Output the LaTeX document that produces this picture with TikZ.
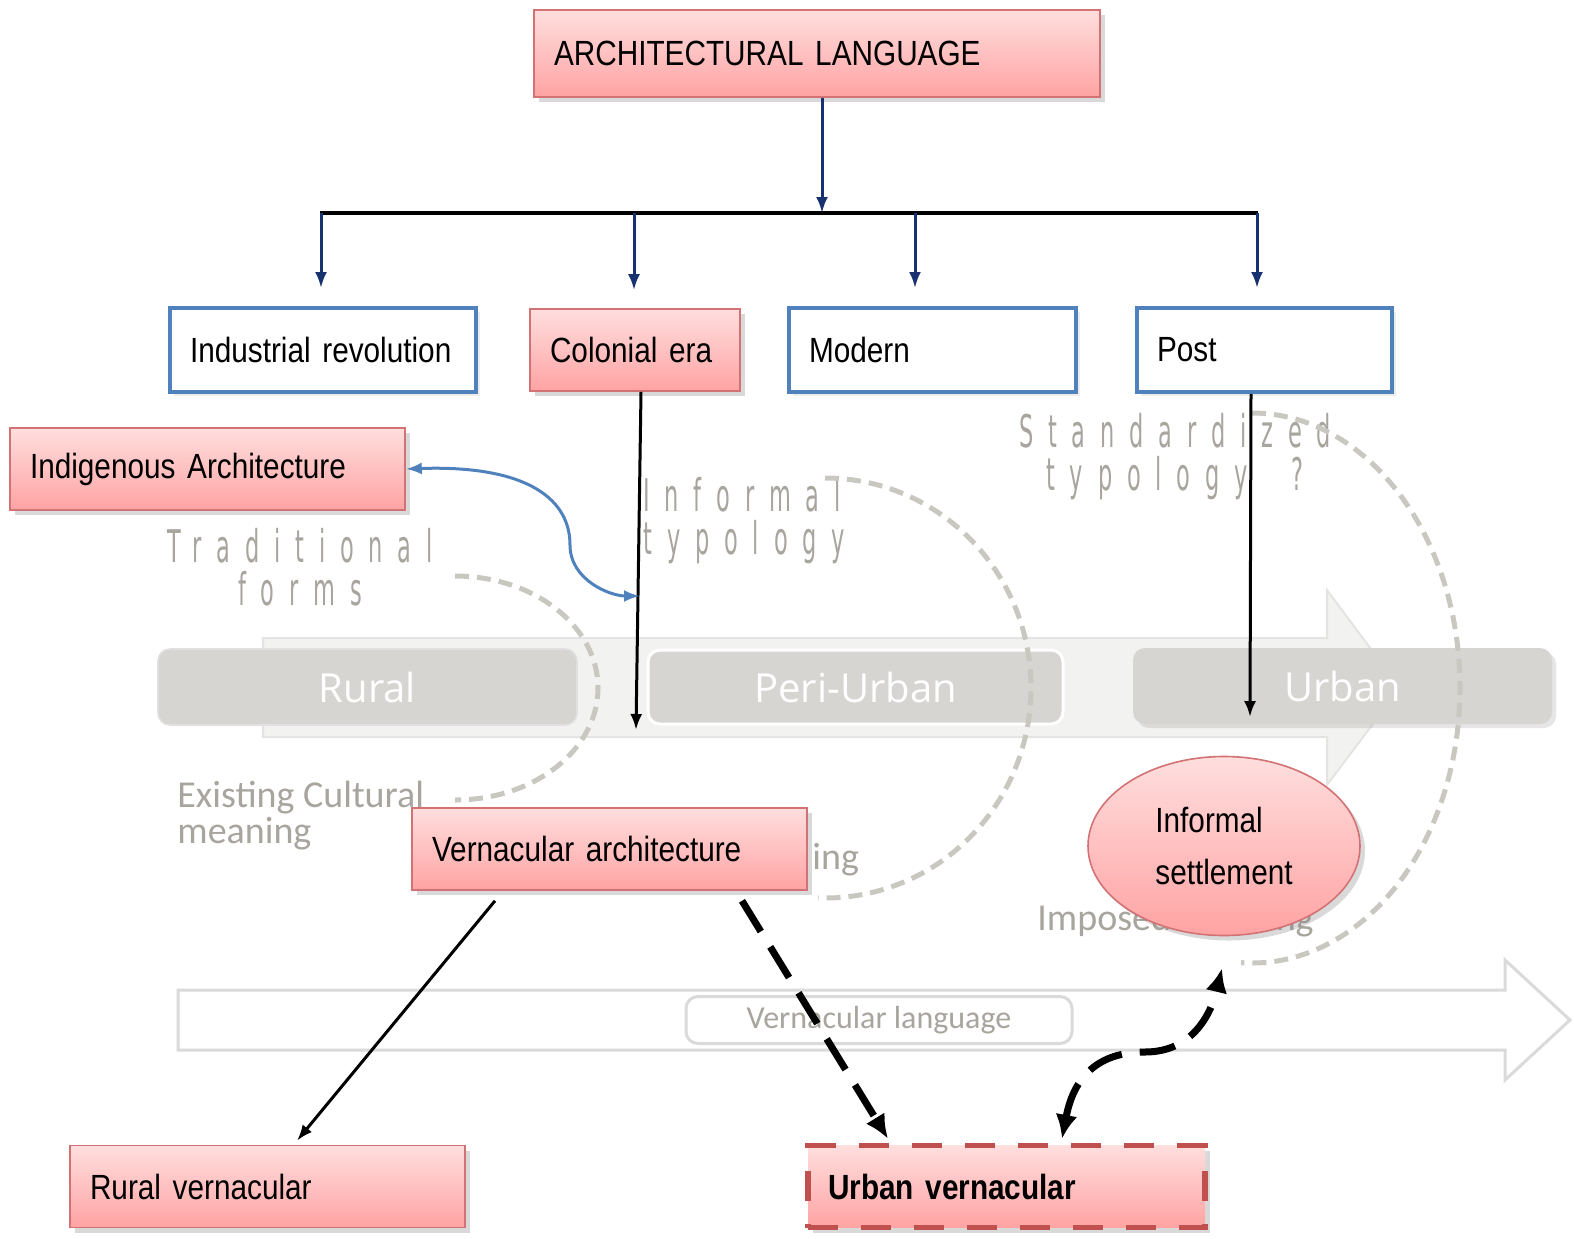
\documentclass[tikz,border=0pt]{standalone}
\usepackage{fontspec}
\setmainfont{Liberation Sans}[FakeStretch=0.85]
\newfontfamily\thinfont{DejaVu Sans}[FakeStretch=0.5,LetterSpace=33]
\newfontfamily\calfont{Carlito}
\newfontfamily\zonefont{Open Sans}
\usepackage{tikz}
\usetikzlibrary{positioning,arrows.meta,shapes.geometric,shadows}

\definecolor{pinktop}{HTML}{FFDEDE}
\definecolor{pinkbot}{HTML}{FFA3A3}
\definecolor{pinkline}{HTML}{D27274}
\definecolor{tierblue}{HTML}{4F81BD}
\definecolor{navy}{HTML}{17326E}
\definecolor{zonegray}{HTML}{D6D5D1}
\definecolor{bandgray}{HTML}{F2F2F1}
\definecolor{bandline}{HTML}{E4E4E2}
\definecolor{arcgray}{HTML}{C9C8C0}
\definecolor{greytext}{HTML}{A8A59E}
\definecolor{outlinegray}{HTML}{DADADA}
\definecolor{redline}{HTML}{C0504D}

\tikzset{
  pinkbox/.style={draw=pinkline, line width=0.8pt, top color=pinktop, bottom color=pinkbot,
    drop shadow={shadow xshift=2.5pt, shadow yshift=-2.5pt, opacity=0.3},
    font=\fontsize{17.5}{21}\selectfont, align=left, inner xsep=10pt, minimum height=41pt},
  tierbox/.style={draw=tierblue, line width=2pt, fill=white,
    drop shadow={shadow xshift=2pt, shadow yshift=-2pt, opacity=0.15},
    font=\fontsize{17.5}{21}\selectfont, align=left, inner xsep=10pt, minimum height=42pt},
  zone/.style={fill=zonegray, rounded corners=6pt, text=white,
    font=\zonefont\fontsize{20}{24}\selectfont, minimum height=38pt},
  greylabel/.style={text=greytext, inner sep=0pt, font=\thinfont\fontsize{22.5}{21.5}\selectfont},
  callabel/.style={text=greytext, inner sep=0pt, align=left, font=\calfont\fontsize{19}{18}\selectfont},
  arcline/.style={draw=arcgray, line width=2.5pt, dash pattern=on 7pt off 4pt},
  navyarrow/.style={draw=navy, line width=1.5pt, -{Latex[length=8pt,width=6pt]}},
  blkarrow/.style={draw=black, line width=1.5pt, -{Latex[length=8pt,width=6pt]}},
  bluearrow/.style={draw=tierblue, line width=1.5pt, {Latex[length=8pt,width=6pt]}-{Latex[length=8pt,width=6pt]}},
  thickdash/.style={draw=black, line width=3.5pt, dash pattern=on 18pt off 9pt}
}

\begin{document}
\begin{tikzpicture}[x=0.5pt, y=0.5pt]
\useasboundingbox (0,0) rectangle (1574,-1238);

% background band and zones
\draw[fill=bandgray, draw=bandline, line width=1pt] (263,-638) -- (1327,-638) -- (1327,-590) -- (1400,-688)
  -- (1327,-785) -- (1327,-737) -- (263,-737) -- cycle;
\node[zone, minimum width=209.5pt, draw=black!12, line width=0.8pt] (Rural) at (367.5,-687) {Rural};
\node[zone, minimum width=207.5pt, minimum height=37pt, draw=white, line width=1.5pt] (Peri) at (855.5,-687) {Peri-Urban};
\node[zone, minimum width=209.5pt, drop shadow={shadow xshift=2pt, shadow yshift=-2pt, opacity=0.2}] (Urban) at (1342.5,-686) {Urban};

% bottom arrow
\draw[draw=outlinegray, line width=1.5pt, fill=white] (178,-990) -- (1505,-990) -- (1505,-960) -- (1570,-1020)
  -- (1505,-1080) -- (1505,-1050) -- (178,-1050) -- cycle;
\node[draw=outlinegray, line width=1.5pt, rounded corners=6pt, minimum width=193pt, minimum height=23.5pt,
  text=greytext, font=\calfont\fontsize{16}{18}\selectfont] (VLang) at (879,-1020) {Vernacular language};

% grey labels
\node[greylabel, align=center] (Trad) at (300,-567) {Traditional\\forms};
\node[greylabel, align=left, anchor=west] (InfTyp) at (643,-521) {Informal\\typology};
\node[greylabel, align=center] (StdTyp) at (1175,-457) {Standardized\\typology\ \ ?};
\node[callabel, anchor=west] (Exist) at (177,-816) {Existing Cultural\\meaning};
\node[callabel, anchor=west] (Ing) at (812,-860) {ing};
\node[callabel, anchor=west] (Impose) at (1037,-921) {Imposed meaning};

% dashed arcs
\draw[arcline] (455,-576) arc[start angle=90, end angle=-90, x radius=71.5pt, y radius=56pt];
\draw[arcline] (825,-478) arc[start angle=90, end angle=-92, x radius=103pt, y radius=105pt];
\draw[arcline] (1252,-413) arc[start angle=90, end angle=-93, x radius=104pt, y radius=137.5pt];

% boxes
\node[pinkbox, text width=263pt, minimum height=43.5pt] (Arch) at (817,-53.5) {ARCHITECTURAL LANGUAGE};
\node[tierbox, text width=133pt] (Ind) at (323,-350) {Industrial revolution};
\node[pinkbox, text width=85pt, right of=Ind, node distance=156pt] (Col) {Colonial era};
\node[tierbox, text width=123.5pt, right of=Col, node distance=148.75pt] (Mod) {Modern};
\node[tierbox, text width=107.5pt, right of=Mod, node distance=166pt] (Post) {Post};
\node[pinkbox, text width=177.5pt] (Indig) at (207.5,-469) {Indigenous Architecture};
\node[pinkbox, text width=177.5pt] (Vern) at (609.5,-849) {Vernacular architecture};
\node[pinkbox, ellipse, minimum width=136pt, minimum height=89.5pt, inner sep=0pt] (Inf) at (1224,-846) {Informal\\[5pt]settlement};
\node[pinkbox, text width=177.5pt] (RurV) at (267.5,-1186.5) {Rural vernacular};
\node[pinkbox, text width=178.5pt, draw=redline, line width=2.75pt, dash pattern=on 15pt off 11.5pt,
  font=\fontsize{17.5}{21}\selectfont\bfseries] (UrbV) at (1006.5,-1186.5) {Urban vernacular};

% connectors
\coordinate (Bar) at (822,-213);
\coordinate (BarL) at (320,-213);
\coordinate (BarR) at (1258,-213);
\draw[navyarrow] ([xshift=2.5pt]Arch.south) -- (Bar);
\draw[line width=2pt] (BarL) -- (BarR);
\foreach \bx/\nd in {321/Ind, 634/Col, 915/Mod, 1257/Post}
  \draw[navyarrow, shorten >=9pt] (\bx,-213) -- (\bx,-213 |- \nd.north);

\coordinate (ColEnd) at (636,-730);
\coordinate (ColMid) at (640,-596);
\coordinate (PostEnd) at (1250,-717);
\draw[blkarrow] ([xshift=3pt]Col.south) -- (ColEnd);
\draw[blkarrow] ([xshift=-6.75pt]Post.south) -- (PostEnd);
\draw[bluearrow] (Indig.east) .. controls (520,-465) and (570,-495) .. (570,-545)
  .. controls (570,-580) and (610,-596) .. (ColMid);

\draw[blkarrow] ([xshift=-57.25pt,yshift=-5pt]Vern.south) -- ([xshift=14.75pt,yshift=2pt]RurV.north);
\draw[thickdash, -{Latex[length=12pt,width=11pt]}] ([xshift=66.25pt,yshift=-5pt]Vern.south)
  -- ([xshift=-59.25pt,yshift=2pt]UrbV.north);
\draw[thickdash, {Latex[length=12pt,width=11pt]}-{Latex[length=12pt,width=11pt]}]
  ([xshift=27.75pt,yshift=2pt]UrbV.north) .. controls (1075,-1070) and (1105,-1052) .. (1145,-1052)
  .. controls (1195,-1052) and (1212,-1010) .. ([xshift=-1pt,yshift=-16pt]Inf.south);
\end{tikzpicture}
\end{document}
